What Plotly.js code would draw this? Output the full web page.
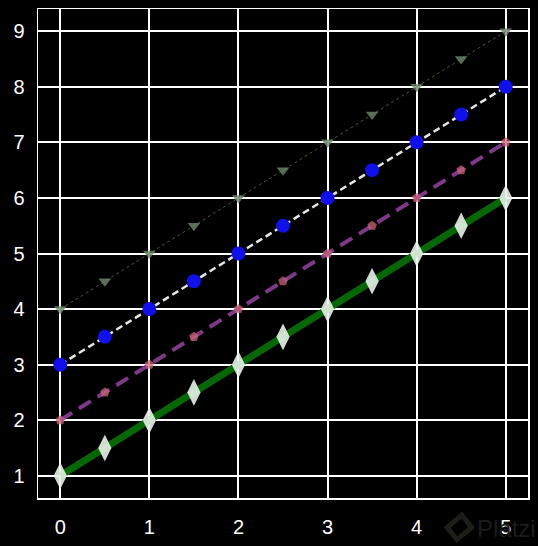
<!DOCTYPE html>
<html>
<head>
<meta charset="utf-8">
<script src="https://cdn.plot.ly/plotly-3.0.1.min.js"></script>
<style>html,body{margin:0;padding:0;background:#000;}#chart{width:538px;height:546px;}</style>
</head>
<body>
<div id="chart"></div>
<script>
const xValues = [0, 0.5, 1, 1.5, 2, 2.5, 3, 3.5, 4, 4.5, 5];
const seriesA = [1, 1.5, 2, 2.5, 3, 3.5, 4, 4.5, 5, 5.5, 6];
const seriesB = [2, 2.5, 3, 3.5, 4, 4.5, 5, 5.5, 6, 6.5, 7];
const seriesC = [3, 3.5, 4, 4.5, 5, 5.5, 6, 6.5, 7, 7.5, 8];
const seriesD = [4, 4.5, 5, 5.5, 6, 6.5, 7, 7.5, 8, 8.5, 9];
const xTicks = [0, 1, 2, 3, 4, 5];
const yTicks = [1, 2, 3, 4, 5, 6, 7, 8, 9];

const traces = [
  {x: xValues, y: seriesD, mode: 'lines+markers',
   line: {color: '#4d5a2e', width: 1, dash: 'dot'},
   marker: {symbol: 'triangle-down', size: 11, color: 'rgba(110,135,110,0.8)'}},
  {x: xValues, y: seriesC, mode: 'lines+markers',
   line: {color: '#e6e6e6', width: 2.5, dash: '7px,4px'},
   marker: {symbol: 'circle', size: 14, color: '#1010e8'}},
  {x: xValues, y: seriesB, mode: 'lines+markers',
   line: {color: '#7e3a88', width: 4, dash: '14px,8px'},
   marker: {symbol: 'pentagon', size: 10, color: 'rgba(200,100,120,0.75)'}},
  {x: xValues, y: seriesA, mode: 'lines+markers',
   line: {color: '#076707', width: 7},
   marker: {symbol: 'diamond-tall', size: 19, color: 'rgba(232,242,232,0.9)'}}
];

const layout = {
  width: 538, height: 546,
  paper_bgcolor: '#000', plot_bgcolor: '#000',
  margin: {l: 38, r: 10, t: 9, b: 48},
  showlegend: false,
  font: {family: 'Liberation Sans, Arial, sans-serif', color: '#ffffff', size: 20},
  xaxis: {range: [-0.25, 5.25], tickvals: xTicks, ticktext: xTicks.map(String),
          showgrid: true, gridcolor: '#ffffff', gridwidth: 2, zeroline: false,
          showline: true, linecolor: '#ffffff', linewidth: 1.5, mirror: true,
          ticks: '', ticklabelstandoff: 10},
  yaxis: {range: [0.6, 9.4], tickvals: yTicks, ticktext: yTicks.map(String),
          showgrid: true, gridcolor: '#ffffff', gridwidth: 2, zeroline: false,
          showline: true, linecolor: '#ffffff', linewidth: 1.5, mirror: true,
          ticks: '', ticklabelstandoff: 8},
  shapes: [{type: 'path', xref: 'paper', yref: 'paper', layer: 'below',
            path: 'M 0.835 -0.06 L 0.865 -0.035 L 0.885 -0.06 L 0.855 -0.085 Z',
            line: {color: '#1c1f18', width: 5}}],
  annotations: [{xref: 'paper', yref: 'paper', x: 1.02, y: -0.095, xanchor: 'right', yanchor: 'bottom',
                 text: 'Platzi', showarrow: false, font: {size: 24, color: '#1c1c1c'}}]
};

Plotly.newPlot('chart', traces, layout, {displayModeBar: false, staticPlot: true});
</script>
</body>
</html>
